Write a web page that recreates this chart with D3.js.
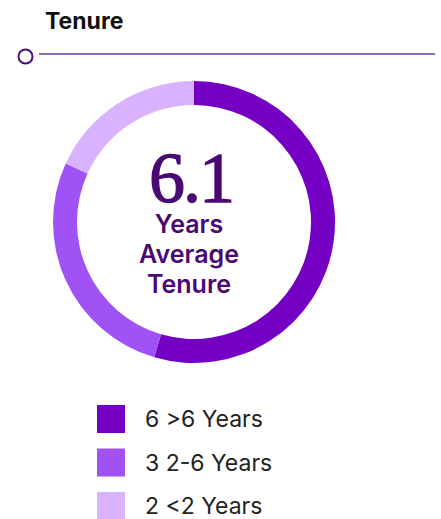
<!DOCTYPE html>
<html>
<head>
<meta charset="utf-8">
<script src="https://cdn.jsdelivr.net/npm/d3@7"></script>
<style>
  body { margin: 0; background: #fff; }
  svg { display: block; }
</style>
</head>
<body>
<div id="vis"></div>
<script>
var categories = [">6 Years", "2-6 Years", "<2 Years"];
var counts = [6, 3, 2];
var colors = ["#7300c2", "#a152f5", "#d9b3ff"];
var average = "6.1";
var centerLines = ["Years", "Average", "Tenure"];

var width = 441, height = 519;
var svg = d3.select("#vis").append("svg")
    .attr("width", width)
    .attr("height", height);

// title + rule
svg.append("text")
    .attr("x", 45).attr("y", 29)
    .attr("font-family", "Inter, Liberation Sans, sans-serif")
    .attr("font-weight", 700)
    .attr("font-size", 23)
    .attr("fill", "#111")
    .text("Tenure");

svg.append("line")
    .attr("x1", 39).attr("x2", 435)
    .attr("y1", 54).attr("y2", 54)
    .attr("stroke", "#6e3a9e")
    .attr("stroke-width", 1.6);

svg.append("circle")
    .attr("cx", 25.5).attr("cy", 56.5).attr("r", 7)
    .attr("fill", "#fff")
    .attr("stroke", "#4b0f7a")
    .attr("stroke-width", 2);

// donut
var cx = 194, cy = 222;
var pie = d3.pie().sort(null).value(function (d) { return d; });
var arc = d3.arc().innerRadius(117).outerRadius(141);

var g = svg.append("g").attr("transform", "translate(" + cx + "," + cy + ")");
g.selectAll("path")
    .data(pie(counts))
    .enter().append("path")
    .attr("d", arc)
    .attr("fill", function (d, i) { return colors[i]; });

g.append("text")
    .attr("x", -3).attr("y", -20)
    .attr("text-anchor", "middle")
    .attr("font-family", "Liberation Serif, Times New Roman, serif")
    .attr("font-size", 72)
    .attr("letter-spacing", -2)
    .attr("fill", "#4a0873")
    .attr("stroke", "#4a0873")
    .attr("stroke-width", 1.3)
    .text(average);

g.selectAll(".sub")
    .data(centerLines)
    .enter().append("text")
    .attr("class", "sub")
    .attr("x", -5)
    .attr("y", function (d, i) { return 11 + i * 30; })
    .attr("text-anchor", "middle")
    .attr("font-family", "Inter, Liberation Sans, sans-serif")
    .attr("font-weight", 600)
    .attr("font-size", 25)
    .attr("fill", "#4a0873")
    .text(function (d) { return d; });

// legend
var legend = svg.selectAll(".leg")
    .data(categories)
    .enter().append("g")
    .attr("class", "leg")
    .attr("transform", function (d, i) { return "translate(97," + (405 + i * 43.5) + ")"; });

legend.append("rect")
    .attr("width", 28).attr("height", 28)
    .attr("fill", function (d, i) { return colors[i]; });

legend.append("text")
    .attr("x", 48).attr("y", 22)
    .attr("font-family", "Inter, Liberation Sans, sans-serif")
    .attr("font-size", 23)
    .attr("fill", "#222")
    .text(function (d, i) { return counts[i] + " " + d; });
</script>
</body>
</html>
